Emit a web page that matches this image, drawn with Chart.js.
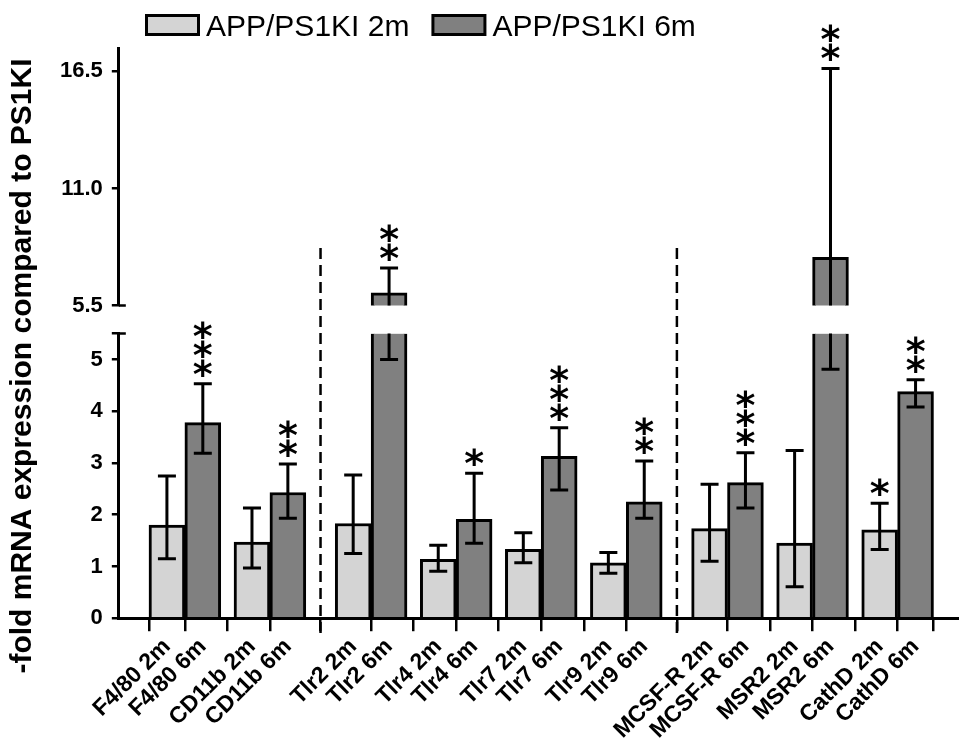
<!DOCTYPE html>
<html>
<head>
<meta charset="utf-8">
<script src="https://cdn.jsdelivr.net/npm/chart.js@4.4.1/dist/chart.umd.min.js"></script>
<style>
  html, body { margin: 0; padding: 0; background: #fff; }
</style>
</head>
<body>
<canvas id="chart" width="959" height="754"></canvas>
<script>
// ---- data ----
const genes = ["F4/80", "CD11b", "Tlr2", "Tlr4", "Tlr7", "Tlr9", "MCSF-R", "MSR2", "CathD"];
const geneGroup = [0, 0, 1, 1, 1, 1, 2, 2, 2];
const seriesNames = ["APP/PS1KI 2m", "APP/PS1KI 6m"];
const ageSuffix = ["2m", "6m"];

const mean2m  = [1.80, 1.47, 1.83, 1.14, 1.33, 1.07, 1.73, 1.45, 1.71];
const upper2m = [2.75, 2.13, 2.77, 1.41, 1.65, 1.27, 2.59, 3.24, 2.22];
const lower2m = [1.15, 0.97, 1.25, 0.91, 1.07, 0.87, 1.10, 0.61, 1.33];

const mean6m  = [3.78, 2.43, 6.10, 1.91, 3.13, 2.25, 2.62, 7.76, 4.38];
const upper6m = [4.53, 2.98, 7.27, 2.80, 3.68, 3.04, 3.20, 16.64, 4.61];
const lower6m = [3.19, 1.93, 5.00, 1.45, 2.48, 1.93, 2.13, 4.81, 4.08];

const stars2m = ["", "", "", "", "", "", "", "", "*"];
const stars6m = ["***", "**", "**", "*", "***", "**", "***", "**", "**"];

const lowTicks = [0, 1, 2, 3, 4, 5];
const highTicks = [5.5, 11.0, 16.5];
const BREAK = 5.5;
const HIGH_MAX = 17.6;

// ---- styling / layout ----
const FONT = '"Liberation Sans", Arial, sans-serif';
const LIGHT = "#d4d4d4";
const DARK = "#808080";
const PAIR_STEP = 2.37;
const GROUP_GAP = 0.45;
const DASH_TOP = 8.2;

Chart.defaults.font.family = FONT;
Chart.defaults.font.size = 22;
Chart.defaults.font.weight = "bold";
Chart.defaults.color = "#000";

const pos2m = genes.map((g, i) => i * PAIR_STEP + geneGroup[i] * GROUP_GAP);
const pos6m = pos2m.map(p => p + 1);
const xMin = pos2m[0] - 0.69;
const xMax = pos6m[pos6m.length - 1] + 0.56;

const series = [
  { name: seriesNames[0], color: LIGHT, pos: pos2m, mean: mean2m, hi: upper2m, lo: lower2m, stars: stars2m },
  { name: seriesNames[1], color: DARK, pos: pos6m, mean: mean6m, hi: upper6m, lo: lower6m, stars: stars6m }
];

const tickPos = [];
const tickLabels = [];
genes.forEach((g, i) => {
  tickPos.push(pos2m[i], pos6m[i]);
  tickLabels.push(g + " " + ageSuffix[0], g + " " + ageSuffix[1]);
});

const datasets = [];
series.forEach(s => {
  // part of each bar below the axis break
  datasets.push({
    label: s.name,
    yAxisID: "yLow",
    data: s.pos.map((x, i) => ({ x: x, y: Math.min(s.mean[i], BREAK) })),
    backgroundColor: s.color,
    borderColor: "#000",
    borderWidth: ctx => s.mean[ctx.dataIndex] > BREAK ? { left: 3, right: 3, top: 0, bottom: 0 } : 3,
    grouped: false,
    barPercentage: 1,
    categoryPercentage: 1
  });
  // part above the break, only for the tall bars
  datasets.push({
    label: s.name,
    yAxisID: "yHigh",
    data: s.pos.map((x, i) => ({ x: x, y: s.mean[i] })).filter(p => p.y > BREAK),
    backgroundColor: s.color,
    borderColor: "#000",
    borderWidth: 3,
    borderSkipped: false,
    grouped: false,
    barPercentage: 1,
    categoryPercentage: 1
  });
});

function yAxis(extra) {
  return Object.assign({
    type: "linear",
    position: "left",
    stack: "y",
    grid: { drawOnChartArea: false, drawTicks: true, tickLength: 7, lineWidth: 2.5, color: "#000" },
    border: { display: true, width: 3, color: "#000" }
  }, extra);
}

const decorPlugin = {
  id: "decor",
  afterDatasetsDraw(chart) {
    const { ctx, scales } = chart;
    const xs = scales.x, lo = scales.yLow, hi = scales.yHigh;
    const yPix = v => v <= BREAK ? lo.getPixelForValue(v) : hi.getPixelForValue(v);
    ctx.save();
    ctx.strokeStyle = "#000";
    ctx.fillStyle = "#000";

    // dashed separators between gene groups
    ctx.lineWidth = 2.5;
    ctx.setLineDash([11, 6]);
    for (let i = 1; i < genes.length; i++) {
      if (geneGroup[i] !== geneGroup[i - 1]) {
        const xp = (xs.getPixelForValue(pos6m[i - 1]) + xs.getPixelForValue(pos2m[i])) / 2;
        ctx.beginPath();
        ctx.moveTo(xp, hi.getPixelForValue(DASH_TOP));
        ctx.lineTo(xp, lo.bottom + 19);
        ctx.stroke();
      }
    }
    ctx.setLineDash([]);

    // error bars
    ctx.lineWidth = 3;
    series.forEach(s => {
      s.pos.forEach((p, i) => {
        const xp = xs.getPixelForValue(p);
        const a = s.lo[i], b = s.hi[i];
        ctx.beginPath();
        if (a < BREAK && b > BREAK) {
          ctx.moveTo(xp, lo.getPixelForValue(a));
          ctx.lineTo(xp, lo.top);
          ctx.moveTo(xp, hi.bottom);
          ctx.lineTo(xp, hi.getPixelForValue(b));
        } else {
          ctx.moveTo(xp, yPix(a));
          ctx.lineTo(xp, yPix(b));
        }
        [a, b].forEach(v => {
          ctx.moveTo(xp - 9, yPix(v));
          ctx.lineTo(xp + 9, yPix(v));
        });
        ctx.stroke();
      });
    });

    // significance stars
    ctx.font = 'bold 38px "DejaVu Sans"';
    ctx.textAlign = "center";
    ctx.textBaseline = "alphabetic";
    const m = ctx.measureText("*");
    const shift = (m.actualBoundingBoxAscent - m.actualBoundingBoxDescent) / 2;
    series.forEach(s => {
      s.pos.forEach((p, i) => {
        const xp = xs.getPixelForValue(p);
        const top = yPix(s.hi[i]);
        for (let k = 0; k < s.stars[i].length; k++) {
          ctx.fillText("*", xp, top - 16 - k * 19 + shift);
        }
      });
    });

    // caps at the axis break
    const ax = chart.chartArea.left;
    ctx.lineWidth = 2.5;
    ctx.beginPath();
    ctx.moveTo(ax, lo.top); ctx.lineTo(ax + 7, lo.top);
    ctx.moveTo(ax, hi.bottom); ctx.lineTo(ax + 7, hi.bottom);
    ctx.stroke();
    ctx.restore();
  },
  afterDraw(chart) {
    const ctx = chart.ctx;
    ctx.save();
    // legend
    ctx.font = "30px " + FONT;
    ctx.textBaseline = "alphabetic";
    ctx.textAlign = "left";
    let lx = 145;
    series.forEach(s => {
      ctx.fillStyle = "#000";
      ctx.fillRect(lx, 14, 55, 22);
      ctx.fillStyle = s.color;
      ctx.fillRect(lx + 3, 17, 49, 16);
      ctx.fillStyle = "#000";
      ctx.fillText(s.name, lx + 61, 36);
      lx += 61 + ctx.measureText(s.name).width + 22;
    });
    // y axis title
    ctx.translate(23, 366);
    ctx.rotate(-Math.PI / 2);
    ctx.font = "bold 30px " + FONT;
    ctx.textAlign = "center";
    ctx.textBaseline = "middle";
    ctx.fillText("-fold mRNA expression compared to PS1KI", 0, 0);
    ctx.restore();
  }
};

new Chart(document.getElementById("chart"), {
  type: "bar",
  data: { datasets: datasets },
  options: {
    responsive: false,
    animation: false,
    events: [],
    layout: { padding: { left: 51, top: 48, right: 0, bottom: 8 } },
    plugins: { legend: { display: false }, tooltip: { enabled: false } },
    scales: {
      x: {
        type: "linear",
        min: xMin,
        max: xMax,
        afterBuildTicks: axis => { axis.ticks = tickPos.map(v => ({ value: v })); },
        ticks: {
          autoSkip: false, minRotation: 45, maxRotation: 45, padding: 2,
          font: { size: 23, weight: "bold" },
          callback: (v, i) => tickLabels[i]
        },
        grid: { drawOnChartArea: false, drawTicks: true, tickLength: 13, lineWidth: 2.5, color: "#000" },
        border: { display: true, width: 3, color: "#000" }
      },
      yLow: yAxis({
        stackWeight: 284, min: 0, max: BREAK,
        afterBuildTicks: axis => { axis.ticks = lowTicks.concat([BREAK]).map(v => ({ value: v })); },
        ticks: { autoSkip: false, padding: 9, font: { size: 22, weight: "bold" }, callback: v => v === BREAK ? "" : String(v) }
      }),
      yGap: { type: "linear", position: "left", stack: "y", stackWeight: 28, display: false },
      yHigh: yAxis({
        stackWeight: 257, min: BREAK, max: HIGH_MAX,
        afterBuildTicks: axis => { axis.ticks = highTicks.map(v => ({ value: v })); },
        ticks: { autoSkip: false, padding: 9, font: { size: 22, weight: "bold" }, callback: v => v.toFixed(1) }
      })
    }
  },
  plugins: [decorPlugin]
});
</script>
</body>
</html>
